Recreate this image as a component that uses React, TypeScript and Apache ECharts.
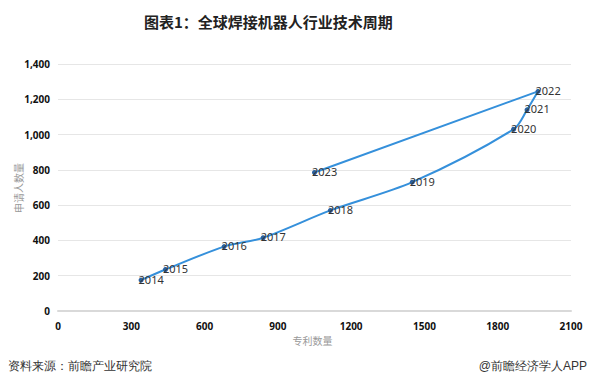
import React, { useEffect, useRef } from "react";
import * as echarts from "echarts";

const years = ["2014", "2015", "2016", "2017", "2018", "2019", "2020", "2021", "2022", "2023"];
const patents = [340, 440, 680, 840, 1115, 1450, 1865, 1920, 1965, 1050];
const applicants = [175, 235, 365, 415, 570, 730, 1030, 1140, 1245, 785];

export default function App() {
  const ref = useRef<HTMLDivElement>(null);
  useEffect(() => {
    if (!ref.current) return;
    const chart = echarts.init(ref.current, undefined, { renderer: "svg" });
    const data = years.map((y, i) => ({ value: [patents[i], applicants[i]], name: y }));
    chart.setOption({
      animation: false,
      backgroundColor: "#ffffff",
      title: {
        text: "图表1：全球焊接机器人行业技术周期",
        left: 139,
        top: 9,
        textStyle: { fontSize: 15, fontWeight: "bold", color: "#222", fontFamily: "Noto Sans CJK SC" },
      },
      graphic: [
        {
          type: "text",
          left: 8,
          top: 360,
          style: { text: "资料来源：前瞻产业研究院", fontSize: 12, fill: "#333", font: "12px 'Noto Sans CJK SC'" },
        },
        {
          type: "text",
          right: 4,
          top: 360,
          style: { text: "@前瞻经济学人APP", fontSize: 12, fill: "#333", font: "12px 'Noto Sans CJK SC'" },
        },
        {
          type: "text",
          x: 18,
          y: 188,
          rotation: Math.PI / 2,
          style: {
            text: "申请人数量",
            fill: "#999",
            font: "10px 'Noto Sans CJK SC'",
            align: "center",
            verticalAlign: "middle",
          },
        },
      ],
      grid: { left: 58, right: 20, top: 64, bottom: 79, containLabel: false, outerBoundsMode: "none" },
      xAxis: {
        type: "value",
        min: 0,
        max: 2100,
        interval: 300,
        name: "专利数量",
        nameLocation: "middle",
        nameGap: 22,
        nameTextStyle: { color: "#999", fontSize: 10, fontFamily: "Noto Sans CJK SC", padding: [0, 0, 0, -4] },
        axisLine: { show: true, lineStyle: { color: "#d9d9d9", width: 2 } },
        axisTick: { show: false },
        splitLine: { show: false },
        axisLabel: {
          color: "#111",
          fontSize: 10,
          fontWeight: "bold",
          margin: 10,
          fontFamily: "Noto Sans",
          formatter: (v: number) => String(v),
        },
      },
      yAxis: {
        type: "value",
        min: 0,
        max: 1400,
        interval: 200,
        axisLine: { show: false },
        axisTick: { show: false },
        splitLine: { lineStyle: { color: "#e6e6e6", width: 1 } },
        axisLabel: {
          color: "#111",
          fontSize: 10,
          fontWeight: "bold",
          margin: 8,
          fontFamily: "Noto Sans",
          formatter: (v: number) => v.toLocaleString("en-US"),
        },
      },
      series: [
        {
          type: "line",
          data,
          smooth: 0.3,
          symbol: "circle",
          symbolSize: 5,
          itemStyle: { color: "#2b5f9e" },
          lineStyle: { color: "#3590db", width: 2 },
          label: {
            show: true,
            position: "right",
            distance: -5,
            offset: [0, -1],
            formatter: (p: any) => p.name,
            color: "#333",
            fontSize: 11,
            fontFamily: "Noto Sans",
          },
        },
      ],
    });
    return () => chart.dispose();
  }, []);
  return <div ref={ref} style={{ width: 591, height: 390, position: "absolute", left: 0, top: 0 }} />;
}
